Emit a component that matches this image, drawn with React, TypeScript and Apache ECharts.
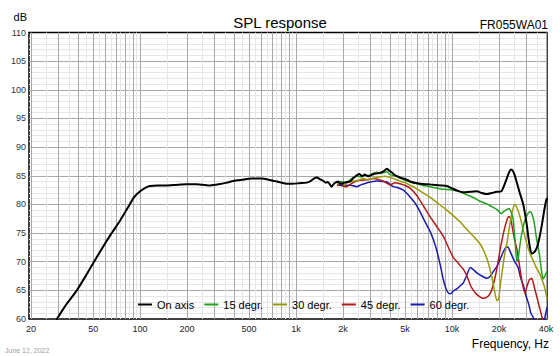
import React, { useEffect, useRef } from "react";
import * as echarts from "echarts";

const FONT = "'Liberation Sans', Arial, Helvetica, sans-serif";

const onAxisFreq = [29.3, 33, 39.3, 45, 50.7, 57, 64, 74.5, 85, 91, 100, 108, 116, 130, 148, 170, 199, 230, 260, 281, 320, 360, 396, 450, 520, 600, 650, 720, 800, 872, 950, 1050, 1170, 1228, 1300, 1360, 1420, 1495, 1550, 1600, 1690, 1760, 1866, 1930, 2007, 2100, 2222, 2330, 2460, 2550, 2650, 2750, 2900, 3140, 3300, 3450, 3600, 3820, 3950, 4100, 4300, 4640, 5130, 5500, 5960, 6237, 7000, 7800, 8500, 9250, 10000, 10800, 11800, 13000, 14380, 15500, 16700, 18000, 19350, 20700, 21500, 22400, 23200, 23900, 24600, 25200, 26200, 27300, 28600, 30100, 31400, 32500, 34000, 35500, 37400, 39000, 40200, 40600];
const onAxisDb = [60, 62.2, 65, 67.6, 70, 72.3, 74.5, 77.2, 79.8, 81.2, 82.3, 82.9, 83.2, 83.3, 83.3, 83.4, 83.5, 83.5, 83.4, 83.3, 83.5, 83.8, 84.1, 84.3, 84.5, 84.5, 84.4, 84.1, 83.8, 83.6, 83.6, 83.7, 83.8, 84.0, 84.5, 84.7, 84.4, 84.1, 83.8, 83.9, 83.1, 83.7, 84.0, 83.6, 83.7, 83.9, 84.0, 84.6, 85.1, 85.3, 84.9, 85.2, 84.9, 85.3, 85.4, 85.5, 85.7, 86.2, 85.9, 85.6, 85.1, 84.7, 84.3, 83.9, 83.7, 83.6, 83.5, 83.4, 83.3, 83.2, 82.8, 82.4, 82.1, 82.2, 82.3, 82.0, 81.8, 82.0, 82.2, 82.3, 83.2, 84.5, 85.6, 86.1, 85.8, 85.1, 83.5, 81.8, 80.0, 76.5, 72.8, 71.4, 71.8, 73.0, 76.0, 79.0, 80.8, 81.0];

const deg15Freq = [1850, 1950, 2050, 2150, 2300, 2450, 2600, 2750, 2900, 3050, 3300, 3500, 3700, 3820, 4000, 4300, 4640, 5000, 5500, 5960, 6500, 6900, 7800, 8500, 9250, 10000, 11200, 12400, 13700, 15000, 16700, 18000, 19400, 20700, 21500, 22400, 23200, 24000, 24600, 25400, 26000, 26500, 27200, 27800, 29000, 30100, 31000, 31800, 32800, 33600, 34800, 36300, 37400, 38300, 39300, 40600];
const deg15Db = [83.8, 84.0, 83.8, 84.0, 84.6, 84.9, 84.8, 85.1, 85.0, 85.3, 85.6, 85.4, 85.6, 85.7, 85.2, 85.0, 84.6, 84.2, 83.8, 83.6, 83.3, 83.2, 82.9, 82.7, 82.6, 82.5, 82.2, 81.7, 81.2, 80.6, 80.1, 79.6, 79.1, 78.4, 78.8, 79.1, 79.3, 78.5, 77.5, 73.5, 70.0, 70.5, 72.8, 74.5, 76.8, 78.0, 78.6, 78.7, 78.0, 76.8, 74.0, 71.3, 68.5, 67.0, 67.5, 68.3];

const deg30Freq = [1850, 1950, 2050, 2150, 2300, 2500, 2700, 2900, 3140, 3450, 3700, 3900, 4100, 4400, 4700, 5000, 5400, 5800, 6200, 6900, 7600, 8400, 9250, 10200, 11200, 12100, 13100, 14400, 15200, 15900, 16700, 17300, 17900, 18400, 18900, 19400, 19900, 20300, 21000, 21800, 22400, 23300, 24200, 25200, 26000, 27300, 28600, 30100, 31500, 33000, 34600, 36300, 37800, 39400, 40600];
const deg30Db = [83.6, 83.9, 83.4, 83.8, 84.0, 84.2, 84.5, 84.3, 84.6, 84.8, 84.9, 84.8, 84.6, 84.3, 84.0, 83.8, 83.3, 82.9, 82.4, 81.6, 80.8, 79.9, 79.0, 78.0, 77.0, 76.0, 75.0, 73.8, 73.0, 72.0, 70.6, 69.2, 67.6, 65.9, 64.3, 63.2, 63.5, 65.6, 68.5, 71.5, 73.0, 76.0, 78.5, 80.0, 79.5, 77.8, 75.5, 73.2, 71.5, 70.3, 69.0, 68.0, 66.8, 65.3, 63.5];

const deg45Freq = [1850, 1950, 2050, 2110, 2250, 2400, 2600, 2850, 3140, 3400, 3600, 3820, 4000, 4300, 4640, 5000, 5400, 5800, 6200, 6700, 7200, 8000, 8800, 9400, 10100, 10900, 11800, 12500, 13100, 13700, 14400, 15000, 15800, 16700, 17400, 18000, 18700, 19500, 20300, 21200, 21900, 22500, 23000, 23700, 24500, 25300, 26000, 27000, 28000, 29300, 30300, 31200, 32400, 33700, 35000, 36300, 37500, 38500, 40000];
const deg45Db = [83.3, 83.7, 83.1, 83.1, 83.6, 84.0, 84.2, 84.3, 84.5, 84.3, 84.1, 83.7, 83.4, 83.8, 83.6, 83.3, 82.8, 81.9, 80.8, 79.3, 77.9, 76.1, 74.4, 72.7, 70.9, 69.8, 68.7, 67.4, 65.9, 65.0, 64.3, 63.9, 63.6, 63.8, 64.3, 65.2, 66.8, 69.2, 72.0, 74.6, 76.2, 77.3, 77.9, 77.6, 75.5, 73.5, 72.3, 69.5, 66.7, 64.5, 65.8, 66.8, 67.1, 65.5, 63.8, 62.1, 60.6, 59.3, 58.0];

const deg60Freq = [1850, 1950, 2050, 2200, 2450, 2600, 2800, 3000, 3300, 3550, 3820, 4000, 4200, 4500, 4870, 5100, 5380, 5800, 6240, 6700, 7230, 7600, 7970, 8400, 8800, 9200, 9500, 9800, 10200, 10800, 11300, 11800, 12400, 13100, 13700, 14500, 15500, 16700, 17500, 18400, 19400, 20300, 21200, 22000, 22400, 23000, 23900, 25000, 26500, 27500, 28700, 29800, 31000, 32000, 33000, 34000, 35500, 37000, 38500, 39500, 40600];
const deg60Db = [83.4, 83.3, 83.2, 83.4, 83.1, 83.4, 83.7, 83.9, 84.1, 84.0, 83.9, 83.5, 83.1, 82.9, 82.5, 82.0, 81.3, 80.2, 78.7, 77.0, 75.3, 73.8, 72.0, 69.4, 66.8, 65.1, 64.5, 64.4, 64.9, 65.3, 65.8, 66.3, 67.6, 69.0, 68.6, 68.0, 67.5, 67.1, 67.4, 68.3, 69.2, 70.4, 71.6, 72.4, 72.6, 72.4, 71.4, 70.2, 69.0, 67.2, 65.8, 64.0, 62.6, 61.0, 60.4, 59.5, 58.5, 58.0, 59.0, 60.5, 62.0];

const seriesNames = ["On axis", "15 degr.", "30 degr.", "45 degr.", "60 degr."];
const seriesColors = ["#000000", "#22a022", "#9a9a08", "#b01a1a", "#1a1aae"];

const majorFreqs = [20, 30, 40, 50, 60, 70, 80, 90, 100, 200, 300, 400, 500, 600, 700, 800, 900, 1000, 2000, 3000, 4000, 5000, 6000, 7000, 8000, 9000, 10000, 20000, 30000, 40000];
const minorFreqs = [25, 35, 45, 55, 65, 75, 85, 95, 150, 250, 350, 450, 550, 650, 750, 850, 950, 1500, 2500, 3500, 4500, 5500, 6500, 7500, 8500, 9500, 15000, 25000, 35000];
const tickFreqs = [20, 50, 100, 200, 500, 1000, 2000, 5000, 10000, 20000, 40000];
const tickLabels = ["20", "50", "100", "200", "500", "1k", "2k", "5k", "10k", "20k", "40k"];

const xMin = 19.4;
const xMax = 40600;

function pairs(f: number[], d: number[]) {
  return f.map((x, i) => [x, d[i]]);
}

export default function App() {
  const ref = useRef<HTMLDivElement>(null);
  useEffect(() => {
    if (!ref.current) return;
    const chart = echarts.init(ref.current, null, { renderer: "svg" });
    const curveData = [
      pairs(onAxisFreq, onAxisDb),
      pairs(deg15Freq, deg15Db),
      pairs(deg30Freq, deg30Db),
      pairs(deg45Freq, deg45Db),
      pairs(deg60Freq, deg60Db),
    ];
    const curveSeries = [4, 3, 2, 1, 0].map((i) => ({
      name: seriesNames[i],
      type: "line",
      data: curveData[i],
      showSymbol: false,
      symbol: "none",
      smooth: 0.2,
      clip: true,
      z: 10 + (4 - i),
      itemStyle: { color: seriesColors[i] },
      lineStyle: { color: seriesColors[i], width: i === 0 ? 2 : 1.5, type: "solid", cap: "round", join: "round" },
      emphasis: { disabled: true },
    }));
    const option: any = {
      animation: false,
      backgroundColor: "#ffffff",
      textStyle: { fontFamily: FONT },
      title: {
        text: "SPL response",
        left: "center",
        top: 10,
        textStyle: { fontSize: 15, fontWeight: "normal", color: "#000", fontFamily: FONT },
      },
      grid: {
        left: 29,
        right: 13,
        top: 32.5,
        bottom: 37,
        show: true,
        borderColor: "#000",
        borderWidth: 1.5,
        backgroundColor: "transparent",
      },
      xAxis: {
        type: "log",
        logBase: 10,
        min: xMin,
        max: xMax,
        axisLine: { show: false },
        axisTick: { show: false },
        axisLabel: { show: false },
        splitLine: { show: false },
      },
      yAxis: {
        type: "value",
        min: 60,
        max: 110,
        interval: 5,
        axisLine: { show: false },
        axisTick: { show: false },
        axisLabel: { fontSize: 9, color: "#333", margin: 3, fontFamily: FONT },
        splitLine: { show: true, showMinLine: false, showMaxLine: false, lineStyle: { color: "#a8a8a8", width: 1, type: "solid" } },
        minorTick: { show: false, splitNumber: 5 },
        minorSplitLine: { show: true, lineStyle: { color: "#e6e6e6", width: 1, type: "solid" } },
      },
      legend: {
        data: seriesNames.map((n, i) => ({
          name: n,
          icon: "rect",
          itemStyle: { color: seriesColors[i], borderWidth: 0 },
          lineStyle: { type: "solid", width: 0 },
        })),
        left: 138,
        top: 299,
        padding: 0,
        z: 20,
        itemWidth: 14,
        itemHeight: 2,
        itemGap: 10,
        textStyle: { fontSize: 11, color: "#000", width: 46, fontFamily: FONT },
        selectedMode: false,
      },
      series: [
        {
          name: "minorGrid",
          type: "line",
          data: [],
          z: 1,
          silent: true,
          markLine: {
            z: 1,
            silent: true,
            symbol: ["none", "none"],
            animation: false,
            label: { show: false },
            lineStyle: { color: "#e6e6e6", width: 1, type: "solid" },
            data: minorFreqs.map((f) => ({ xAxis: f })),
          },
        },
        {
          name: "majorGrid",
          type: "line",
          data: [],
          z: 2,
          silent: true,
          markLine: {
            z: 2,
            silent: true,
            symbol: ["none", "none"],
            animation: false,
            label: { show: false },
            lineStyle: { color: "#a8a8a8", width: 1, type: "solid" },
            data: majorFreqs.map((f) => {
              const k = tickFreqs.indexOf(f);
              return {
                xAxis: f,
                label:
                  k >= 0
                    ? {
                        show: true,
                        position: "start",
                        formatter: tickLabels[k],
                        color: "#222",
                        fontSize: 9,
                        distance: 5,
                        fontFamily: FONT,
                      }
                    : { show: false },
              };
            }),
          },
        },
        ...curveSeries,
      ],
      graphic: [
        {
          type: "text",
          x: 27,
          y: 17,
          style: { text: "dB", align: "right", verticalAlign: "middle", fontSize: 11, fill: "#000", fontFamily: FONT },
        },
        {
          type: "text",
          x: 548,
          y: 25,
          style: { text: "FR055WA01", align: "right", verticalAlign: "middle", fontSize: 12, fill: "#000", fontFamily: FONT },
        },
        {
          type: "text",
          x: 549,
          y: 344,
          style: { text: "Frequency, Hz", align: "right", verticalAlign: "middle", fontSize: 12, fill: "#000", fontFamily: FONT },
        },
        {
          type: "text",
          x: 5,
          y: 350,
          style: { text: "June 12, 2022", align: "left", verticalAlign: "middle", fontSize: 7, fill: "#a0a0a0", fontFamily: FONT },
        },
      ],
    };
    chart.setOption(option);
    return () => chart.dispose();
  }, []);
  return <div ref={ref} style={{ position: "absolute", left: 0, top: 0, width: 560, height: 356 }} />;
}
